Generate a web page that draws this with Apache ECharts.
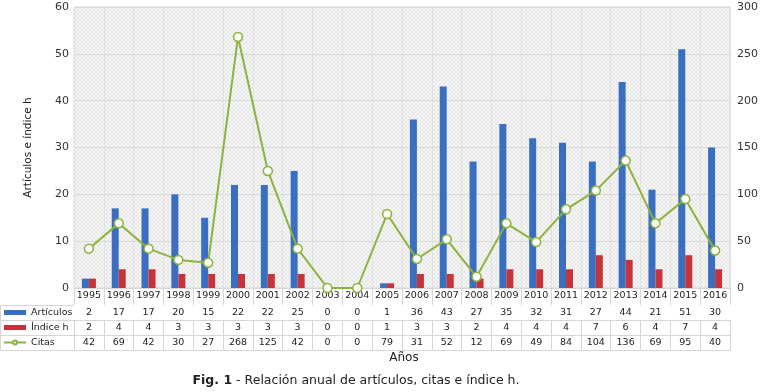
<!DOCTYPE html>
<html><head><meta charset="utf-8">
<script src="https://cdn.jsdelivr.net/npm/echarts@6/dist/echarts.min.js"></script>
<style>html,body{margin:0;padding:0;background:#fff}#c{width:761px;height:392px}</style>
</head><body><div id="c"></div><script>
const years = ['1995','1996','1997','1998','1999','2000','2001','2002','2003','2004','2005','2006','2007','2008','2009','2010','2011','2012','2013','2014','2015','2016'];
const articulos = [2,17,17,20,15,22,22,25,0,0,1,36,43,27,35,32,31,27,44,21,51,30];
const indiceH = [2,4,4,3,3,3,3,3,0,0,1,3,3,2,4,4,4,7,6,4,7,4];
const citas = [42,69,42,30,27,268,125,42,0,0,79,31,52,12,69,49,84,104,136,69,95,40];
const seriesNames = ['Artículos','Índice h','Citas'];

const FONT = 'DejaVu Sans';
const BLUE = '#3a6ec0', RED = '#c4343a', GREEN = '#8cb43c', LINE = '#d6d6d6';

// hatch pattern for plot background
const pc = document.createElement('canvas');
pc.width = 4; pc.height = 4;
const pctx = pc.getContext('2d');
pctx.fillStyle = '#f6f6f6'; pctx.fillRect(0,0,4,4);
pctx.fillStyle = '#e7e7e7';
for (let i=0;i<4;i++){ pctx.fillRect(i,i,1,1); pctx.fillRect(3-i,i,1,1); }

function tableAxis(offset, arr, showLabel) {
  return {
    type:'category', data: years, gridIndex:0, position:'bottom', offset: offset,
    axisLine:{show:true, lineStyle:{color:LINE}},
    axisTick:{show: showLabel, length:15, interval:0, lineStyle:{color:LINE}},
    axisLabel:{show: showLabel, interval:0, margin:3, fontSize:9.5, fontFamily:FONT, color:'#222',
      formatter:(v,i)=> arr ? String(arr[i]) : v},
    splitLine:{show:false}
  };
}

const chart = echarts.init(document.getElementById('c'));
chart.setOption({
  animation:false,
  textStyle:{fontFamily:FONT},
  grid:{left:74, right:23, top:7, bottom:104, show:true,
        backgroundColor:{image:pc, repeat:'repeat'}, borderColor:LINE, borderWidth:1},
  legend:{orient:'vertical', left:3, top:305, itemGap:0, itemWidth:22, itemHeight:5, padding:0,
    data:[{name:seriesNames[0], icon:'rect'},{name:seriesNames[1], icon:'rect'},{name:seriesNames[2]}],
    textStyle:{fontSize:9.5, lineHeight:15, color:'#222', fontFamily:FONT}},
  xAxis:[
    {type:'category', data:years, gridIndex:0, position:'bottom',
     axisLine:{show:true, lineStyle:{color:LINE}},
     axisTick:{show:true, length:17, interval:0, lineStyle:{color:LINE}},
     axisLabel:{interval:0, margin:3, fontSize:9.5, fontFamily:FONT, color:'#222'},
     splitLine:{show:true, interval:0, lineStyle:{color:'#e2e2e2'}}},
    tableAxis(17, articulos, true),
    tableAxis(32, indiceH, true),
    tableAxis(47, citas, true),
    tableAxis(62, null, false)
  ],
  yAxis:[
    {type:'value', min:0, max:60, interval:10, name:'Artículos e índice h', nameLocation:'middle', nameGap:40,
     nameTextStyle:{fontSize:10.5, color:'#222', fontFamily:FONT},
     axisLabel:{fontSize:11, color:'#333', margin:5, fontFamily:FONT},
     axisLine:{show:false}, axisTick:{show:false}, splitLine:{lineStyle:{color:'#dadada'}}},
    {type:'value', min:0, max:300, interval:50, position:'right',
     axisLabel:{fontSize:11, color:'#333', margin:7, fontFamily:FONT},
     axisLine:{show:false}, axisTick:{show:false}, splitLine:{show:false}}
  ],
  graphic:[
    {type:'line', shape:{x1:0.5,y1:305.5,x2:74,y2:305.5}, style:{stroke:LINE}},
    {type:'line', shape:{x1:0.5,y1:320.5,x2:74,y2:320.5}, style:{stroke:LINE}},
    {type:'line', shape:{x1:0.5,y1:335.5,x2:74,y2:335.5}, style:{stroke:LINE}},
    {type:'line', shape:{x1:0.5,y1:350.5,x2:74,y2:350.5}, style:{stroke:LINE}},
    {type:'line', shape:{x1:0.5,y1:305.5,x2:0.5,y2:350.5}, style:{stroke:LINE}},
    {type:'text', x:404, y:358, style:{text:'Años', font:'12px "DejaVu Sans"', fill:'#222', align:'center', verticalAlign:'middle'}},
    {type:'text', x:356, y:381, style:{text:'{b|Fig. 1} - Relación anual de artículos, citas e índice h.',
      font:'12.5px "DejaVu Sans"', fill:'#222', align:'center', verticalAlign:'middle',
      rich:{b:{font:'bold 12.5px "DejaVu Sans"', fill:'#222'}}}}
  ],
  series:[
    {name:seriesNames[0], type:'bar', data:articulos, xAxisIndex:0, yAxisIndex:0, barWidth:7, barGap:'0%',
     itemStyle:{color:BLUE}},
    {name:seriesNames[1], type:'bar', data:indiceH, xAxisIndex:0, yAxisIndex:0, barWidth:7, barGap:'0%',
     itemStyle:{color:RED}},
    {name:seriesNames[2], type:'line', data:citas, xAxisIndex:0, yAxisIndex:1,
     symbol:'circle', symbolSize:9, lineStyle:{color:GREEN, width:2},
     itemStyle:{color:'#fff', borderColor:GREEN, borderWidth:1.5}}
  ]
});
</script></body></html>
